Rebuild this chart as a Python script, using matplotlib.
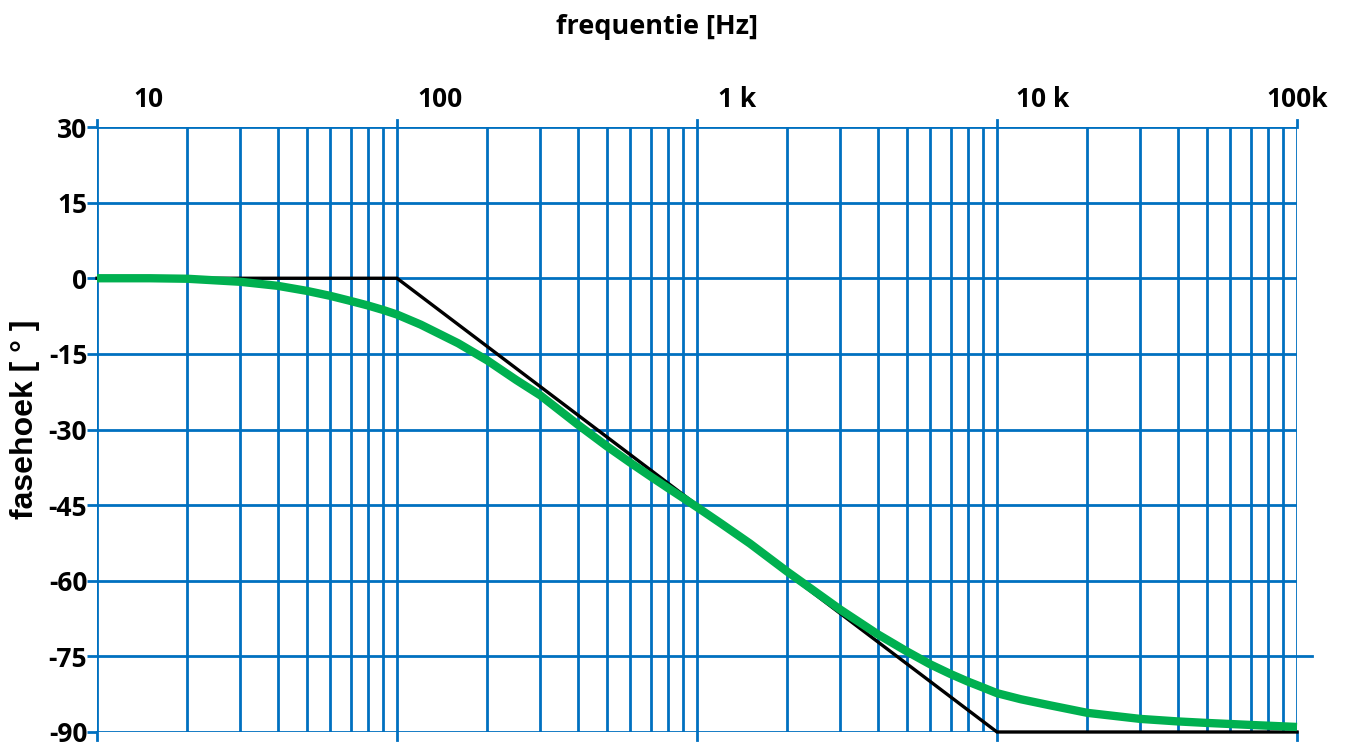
# Bode phase plot (fasehoek vs frequentie) of a first-order low-pass filter
import matplotlib
matplotlib.use("Agg")
import matplotlib.pyplot as plt
import matplotlib.transforms as mtransforms

# Green curve: phase [Hz] / [deg]
freq = [10, 15, 20, 30, 40, 50, 60, 70, 80, 90, 100, 120, 160, 200, 250,
        300, 400, 500, 600, 700, 800, 900, 1000, 1200, 1500, 2000, 3000,
        4000, 5000, 6000, 7000, 8000, 9000, 10000, 12000, 15000, 20000,
        30000, 40000, 50000, 70000, 100000]
phase = [0.0, 0.0, -0.1, -0.7, -1.5, -2.5, -3.5, -4.5, -5.4, -6.3, -7.2,
         -9.2, -12.9, -16.3, -20.2, -23.2, -29.0, -33.3, -36.6, -39.3,
         -41.6, -43.6, -45.4, -48.6, -52.6, -58.2, -65.7, -70.6, -74.0,
         -76.6, -78.5, -80.0, -81.2, -82.3, -83.5, -84.7, -86.2, -87.4,
         -87.9, -88.2, -88.6, -89.0]

# Black asymptote
asym_freq = [10, 100, 10000, 100000]
asym_phase = [0, 0, -90, -90]

# Axis labels
yticks = [30, 15, 0, -15, -30, -45, -60, -75, -90]
decades = [10, 100, 1000, 10000, 100000]
decade_labels = ["10", "100", "1 k", "10 k", "100k"]

grid_blue = "#0070C0"
tick_font = "Open Sans"

fig = plt.figure(figsize=(13.54, 7.42), dpi=100)
ax = fig.add_axes([97 / 1354, 10 / 742, 1200 / 1354, 605 / 742])

ax.set_xscale("log")
ax.set_xlim(10, 100000)
ax.set_ylim(-90, 30)

# grid: all 1..9 lines per decade
minor = [m * d for d in decades[:-1] for m in range(2, 10)]
for x in decades + minor:
    ax.axvline(x, color=grid_blue, lw=2.0, zorder=1)
for y in yticks:
    ax.axhline(y, color=grid_blue, lw=2.0, zorder=1)
# the -75 line runs a little past the right edge
ax.plot([1.0, 1.0125], [-75, -75], transform=ax.get_yaxis_transform(),
        color=grid_blue, lw=2.0, clip_on=False)

for s in ax.spines.values():
    s.set_visible(False)

ax.plot(asym_freq, asym_phase, color="black", lw=2.4, zorder=3,
        solid_joinstyle="miter", clip_on=False)
ax.plot(freq, phase, color="#00B050", lw=6, zorder=4,
        solid_capstyle="butt", solid_joinstyle="round", clip_on=False)

ax.set_xticks([])
ax.minorticks_off()
ax.set_yticks(yticks)
ax.set_yticklabels([str(v) for v in yticks], fontsize=19, fontweight="bold",
                   family=tick_font)
ax.tick_params(axis="y", length=7, width=2.0, color=grid_blue, pad=0)

# decade labels above the plot, shifted right of their grid line
offs = [26, 15, 15, 14, 0]
has = ["left", "left", "left", "left", "center"]
for d, lab, o, ha in zip(decades, decade_labels, offs, has):
    tr = ax.get_xaxis_transform() + mtransforms.ScaledTranslation(
        o / 72, 0, fig.dpi_scale_trans)
    ax.text(d, 1.045, lab, transform=tr, ha=ha, va="center", fontsize=19,
            fontweight="bold", family=tick_font)

# small stubs of the decade lines above and below the grid
for d in decades:
    ax.plot([d, d], [1.0, 1.011], transform=ax.get_xaxis_transform(),
            color=grid_blue, lw=2.0, clip_on=False)
    ax.plot([d, d], [0.0, -0.014], transform=ax.get_xaxis_transform(),
            color=grid_blue, lw=2.0, clip_on=False)

fig.text(657 / 1354, 1 - 27 / 742, "frequentie [Hz]", ha="center",
         va="center", fontsize=19.5, fontweight="bold", family=tick_font)
fig.text(25 / 1354, 1 - 419 / 742, "fasehoek [ ° ]", ha="center",
         va="center", rotation=90, fontsize=23, fontweight="bold",
         family="Liberation Sans")

fig.savefig("out.png", dpi=100)
